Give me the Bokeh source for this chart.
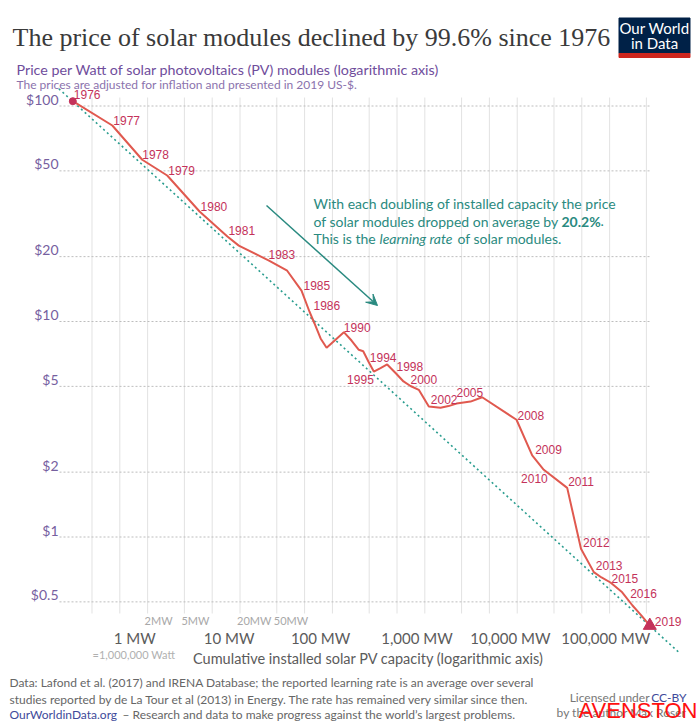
from bokeh.plotting import figure
from bokeh.models import Range1d, Label, Arrow, VeeHead, ColumnDataSource
from bokeh.embed import file_html
from bokeh.resources import INLINE
from bokeh.core.properties import value

# ---------------- data ----------------
years = list(range(1976, 2020))
capacity_mw = [0.31, 0.83, 1.75, 3.26, 7.3, 14.6, 19.4, 40.7, 64.8, 92.6,
               113, 128, 149, 173, 266, 322, 386, 431, 495, 561,
               663, 783, 988, 1176, 1400, 1721, 2209, 2957, 3609, 4405,
               6245, 8357, 19650, 29050, 38790, 69500, 98000, 134900, 163400, 204400,
               273600, 353800, 442800, 544500]
price_usd = [105.3, 81.2, 56.3, 47.6, 32.4, 24.8, 22.5, 19.2, 17.2, 13.9,
             11.1, 9.79, 8.34, 7.55, 8.92, 8.16, 7.39, 7.28, 6.47, 5.86,
             6.08, 6.32, 5.71, 5.27, 5.02, 4.82, 4.03, 3.98, 4.05, 4.16,
             4.25, 4.45, 3.50, 2.39, 2.05, 1.69, 0.882, 0.687, 0.649, 0.615,
             0.554, 0.481, 0.432, 0.388]
label_years = [1976, 1977, 1978, 1979, 1980, 1981, 1983, 1985, 1986, 1990,
               1994, 1995, 1998, 2000, 2002, 2005, 2008, 2009, 2010, 2011,
               2012, 2013, 2015, 2016, 2019]

trend_capacity = [0.219, 1.12e6]
trend_price = [120.2, 0.292]

y_ticks = [100, 50, 20, 10, 5, 2, 1, 0.5]
y_tick_labels = ["$100", "$50", "$20", "$10", "$5", "$2", "$1", "$0.5"]
x_major = [1, 10, 100, 1000, 10000, 100000]
x_major_labels = ["1 MW", "10 MW", "100 MW", "1,000 MW", "10,000 MW", "100,000 MW"]
x_minor = [2, 5, 20, 50]
x_minor_labels = ["2MW", "5MW", "20MW", "50MW"]
x_grid = [0.5, 1, 2, 5, 10, 20, 50, 100, 200, 500, 1000, 2000, 5000,
          1e4, 2e4, 5e4, 1e5, 2e5, 5e5]

# ---------------- styles ----------------
LINE_C = "#e0594f"
LABEL_C = "#c4325a"
TEAL = "#2a8a80"
PURPLE = "#6f4d9c"
GREY = "#666666"

# page pixel -> data helpers (for placing texts / annotations)
def PX(px):
    return 10 ** ((px - 119.3) / 92.4)

def PY(py):
    return 10 ** (2 - (py - 105.5) / 215.5)

W, H = 700, 723
p = figure(width=W, height=H, x_axis_type="log", y_axis_type="log",
           x_range=Range1d(PX(0), PX(W)), y_range=Range1d(PY(H), PY(0)),
           x_axis_location=None, y_axis_location=None, min_border=0,
           toolbar_location=None, output_backend="svg")
p.outline_line_color = None
p.xgrid.visible = False
p.ygrid.visible = False
p.background_fill_color = "white"
p.border_fill_color = "white"

grid_x0 = PX(59)
grid_x1 = capacity_mw[-1]

# vertical light grid
p.segment(x0=x_grid, x1=x_grid, y0=[PY(613)] * len(x_grid), y1=[PY(97)] * len(x_grid),
          line_color="#e2e2e2", line_width=1)
# horizontal dotted grid
p.segment(x0=[grid_x0] * len(y_ticks), x1=[grid_x1] * len(y_ticks), y0=y_ticks, y1=y_ticks,
          line_color="#bdbdbd", line_width=1, line_dash="2 2")

# y tick labels
p.text(x=[grid_x0] * len(y_ticks), y=y_ticks, text=y_tick_labels, x_offset=-1, y_offset=-7,
       text_align="right", text_baseline="middle", text_font=value("Lato"),
       text_font_size="14px", text_color="#76609f")

# trend line
p.line(trend_capacity, trend_price, line_color="#2a9d8f", line_width=1.6, line_dash="2 3")

# price line
p.line(capacity_mw, price_usd, line_color=LINE_C, line_width=2)
p.scatter([capacity_mw[0]], [price_usd[0]], size=7, color=LABEL_C)
p.scatter([capacity_mw[-1]], [price_usd[-1]], marker="triangle", size=13, color=LABEL_C)

# year labels (offsets in px: to the label's left/right edge and vertical centre)
offsets = {1976: (1, -7), 1977: (1, -5), 1978: (0, -5), 1979: (1, -5), 1980: (1, -5),
           1981: (1, -6), 1983: (0, -6), 1985: (2, -5), 1986: (4, -6), 1990: (0, -5),
           1994: (1, -5), 1998: (0, -7), 2000: (0, -6), 2002: (2, -7), 2005: (0, -11),
           2008: (1, -4), 2009: (3, -6), 2011: (1, -6), 2012: (2, -6), 2013: (2, -7),
           2015: (1, -4), 2016: (8, 1), 2019: (5, -4)}
right_side = {1995: (0, 8), 2010: (4, 9)}
lx, ly, lt, ldx, ldy = [], [], [], [], []
rx, ry, rt, rdx, rdy = [], [], [], [], []
for yr in label_years:
    i = years.index(yr)
    if yr in right_side:
        dx, dy = right_side[yr]
        rx.append(capacity_mw[i]); ry.append(price_usd[i]); rt.append(str(yr))
        rdx.append(dx); rdy.append(dy)
    else:
        dx, dy = offsets[yr]
        lx.append(capacity_mw[i]); ly.append(price_usd[i]); lt.append(str(yr))
        ldx.append(dx); ldy.append(dy)
src_l = ColumnDataSource(dict(x=lx, y=ly, t=lt, dx=ldx, dy=ldy))
src_r = ColumnDataSource(dict(x=rx, y=ry, t=rt, dx=rdx, dy=rdy))
p.text(x="x", y="y", text="t", x_offset="dx", y_offset="dy", source=src_l,
       text_align="left", text_baseline="middle", text_font=value("Liberation Sans"),
       text_font_size="12px", text_color=LABEL_C)
p.text(x="x", y="y", text="t", x_offset="dx", y_offset="dy", source=src_r,
       text_align="right", text_baseline="middle", text_font=value("Liberation Sans"),
       text_font_size="12px", text_color=LABEL_C)

# x axis labels
p.text(x=x_major, y=[PY(637)] * len(x_major), text=x_major_labels,
       x_offset=[15, 17, 16, 20, 21, 24], text_align="center", text_baseline="middle",
       text_font=value("Lato"), text_font_size="15px", text_color="#5b5b5b")
p.text(x=x_minor, y=[PY(620)] * len(x_minor), text=x_minor_labels, x_offset=-3,
       text_align="left", text_baseline="middle", text_font=value("Lato"),
       text_font_size="11px", text_color="#a8a8a8")
p.text(x=[x_major[0]], y=[PY(654)], text=["=1,000,000 Watt"], x_offset=14,
       text_align="center", text_baseline="middle", text_font=value("Lato"),
       text_font_size="11px", text_color="#b0b0b0")


def lab(px, py, text, size, color, font="Lato", style="normal", align="left"):
    p.add_layout(Label(x=PX(px), y=PY(py), text=text, text_font=font,
                       text_font_size=size, text_color=color, text_font_style=style,
                       text_align=align, text_baseline="middle"))


lab(368, 658, "Cumulative installed solar PV capacity (logarithmic axis)", "14.5px",
    "#5b5b5b", align="center")

# title + subtitles
lab(12, 37, "The price of solar modules declined by 99.6% since 1976", "26px", "#3a3a3a",
    font="Liberation Serif")
lab(16, 69, "Price per Watt of solar photovoltaics (PV) modules (logarithmic axis)", "14.3px",
    PURPLE)
lab(16, 84, "The prices are adjusted for inflation and presented in 2019 US-$.", "12px",
    "#8b72ad")

# logo
p.quad(left=[PX(618.5)], right=[PX(689.5)], top=[PY(17.5)], bottom=[PY(53)], color="#002147")
p.quad(left=[PX(618.5)], right=[PX(689.5)], top=[PY(53)], bottom=[PY(57)], color="#ce261e")
lab(654, 27, "Our World", "15px", "white", align="center")
lab(654, 42, "in Data", "15px", "white", align="center")

# annotation
lab(313, 203, "With each doubling of installed capacity the price", "14px", TEAL)
lab(313, 220.5, "of solar modules dropped on average by", "14px", TEAL)
lab(561, 220.5, "20.2%", "14px", TEAL, style="bold")
lab(600, 220.5, ".", "14px", TEAL)
lab(313, 238, "This is the", "14px", TEAL)
lab(379, 238, "learning rate", "14px", TEAL, style="italic")
lab(457, 238, "of solar modules.", "14px", TEAL)
p.add_layout(Arrow(end=VeeHead(size=11, fill_color=TEAL, line_color=TEAL),
                   x_start=PX(266), y_start=PY(205), x_end=PX(377), y_end=PY(305),
                   line_color=TEAL, line_width=1.5))

# footer
lab(9, 682, "Data: Lafond et al. (2017) and IRENA Database; the reported learning rate is an average over several",
    "12px", GREY)
lab(9, 698.5, "studies reported by de La Tour et al (2013) in Energy. The rate has remained very similar since then.",
    "12px", GREY)
lab(9, 714, "OurWorldinData.org", "12px", "#3e4a9a")
lab(122, 714, "\u2013 Research and data to make progress against the world\u2019s largest problems.",
    "12px", GREY)
lab(649, 697, "Licensed under", "12px", "#777777", align="right")
lab(686, 697, "CC-BY", "12px", "#3e4a9a", align="right")
lab(686, 712, "by the author Max Roser", "12px", "#777777", align="right")
lab(697, 710, "AVENSTON", "22px", "#ff1010", font="Liberation Sans", align="right")

open("out.html", "w").write(file_html(p, INLINE))
